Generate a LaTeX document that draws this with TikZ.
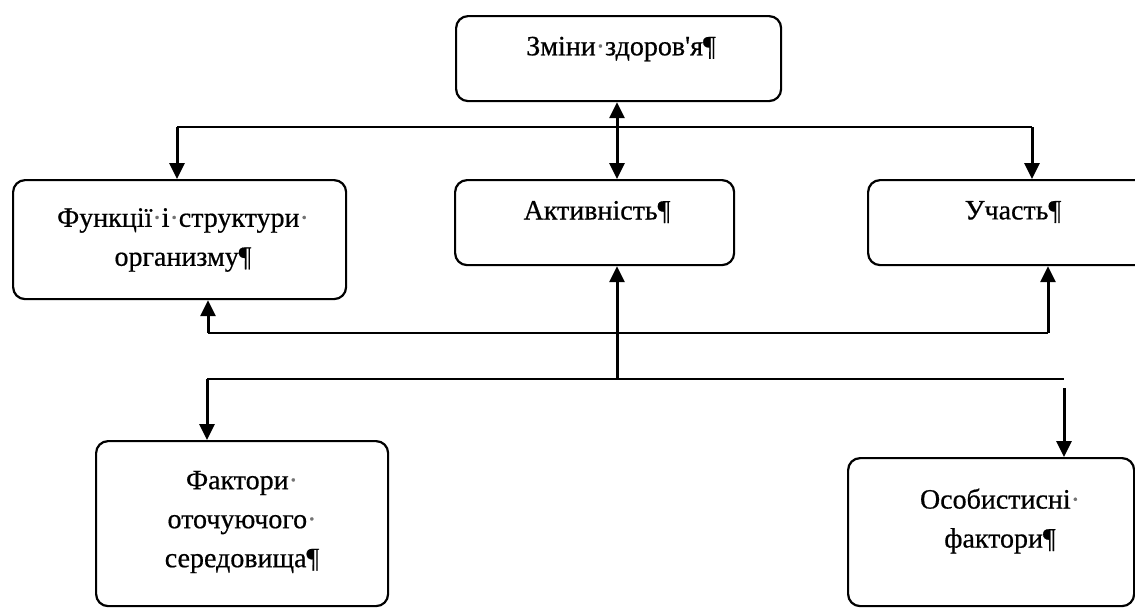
\documentclass[tikz,border=0pt]{standalone}
\usepackage{fontspec}
\setmainfont{Liberation Serif}[FakeBold=0.6]
\newfontfamily\plainfont{Liberation Serif}[FakeBold=0.6]
\usetikzlibrary{arrows.meta}
\newcommand\sdot{{\color{black!55}·}}
\newcommand\apos{{\plainfont'}}
\tikzset{
  box/.style={draw=black, line width=2.2pt, rounded corners=12pt, anchor=north west, inner sep=0pt},
  txt/.style={font=\fontsize{28}{39}\selectfont, align=center, inner sep=0pt, text=black},
  hline/.style={draw=black, line width=2.2pt},
  arr/.style={draw=black, line width=3pt, -{Triangle[length=16pt,width=15pt]}},
  darr/.style={draw=black, line width=3pt, {Triangle[length=16pt,width=15pt]}-{Triangle[length=16pt,width=15pt]}},
}
\begin{document}
\begin{tikzpicture}[x=1pt,y=-1pt]
\useasboundingbox (0,0) rectangle (1135,608);
\clip (0,0) rectangle (1135,608);
% boxes
\node[box, minimum width=325pt, minimum height=85pt] (top) at (455,15) {};
\node[box, minimum width=333pt, minimum height=119pt] (func) at (12,179) {};
\node[box, minimum width=279pt, minimum height=85pt] (act) at (454,179) {};
\node[box, minimum width=300pt, minimum height=85pt] (part) at (867,179) {};
\node[box, minimum width=292pt, minimum height=165pt] (env) at (95,440) {};
\node[box, minimum width=286pt, minimum height=148pt] (pers) at (847,457) {};
% texts
\node[txt] (toptxt) at (621,49) {Зміни\sdot здоров\apos я¶};
\node[txt] (functxt) at (183,240) {Функції\sdot і\sdot структури\sdot\\организму¶};
\node[txt] (acttxt) at (597,212) {Активність¶};
\node[txt] (parttxt) at (1013,212) {Участь¶};
\node[txt] (envtxt) at (242,522) {Фактори\sdot\\оточуючого\sdot\\середовища¶};
\node[txt] (perstxt) at (1000,521) {Особистисні\sdot\\фактори¶};
% junction coordinates
\coordinate (a1) at (177,127);
\coordinate (a2) at (1032,127);
\coordinate (b1) at (208,333);
\coordinate (b2) at (1048,333);
\coordinate (c1) at (207,379);
\coordinate (c0) at (617,379);
\coordinate (c2) at (1064,379);
\coordinate (c3) at (1064,388);
% connectors
\draw[hline] (a1) -- (a2);
\draw[arr] (a1) -- (a1 |- func.north);
\draw[arr] (a2) -- (a2 |- part.north);
\draw[darr] (top.south -| c0) -- (act.north -| c0);
\draw[hline] (b1) -- (b2);
\draw[arr] (b1) -- (b1 |- func.south);
\draw[arr] (b2) -- (b2 |- part.south);
\draw[arr] (c0) -- (act.south -| c0);
\draw[hline] (c1) -- (c2);
\draw[arr] (c1) -- (c1 |- env.north);
\draw[arr] (c3) -- (c3 |- pers.north);
\end{tikzpicture}
\end{document}
